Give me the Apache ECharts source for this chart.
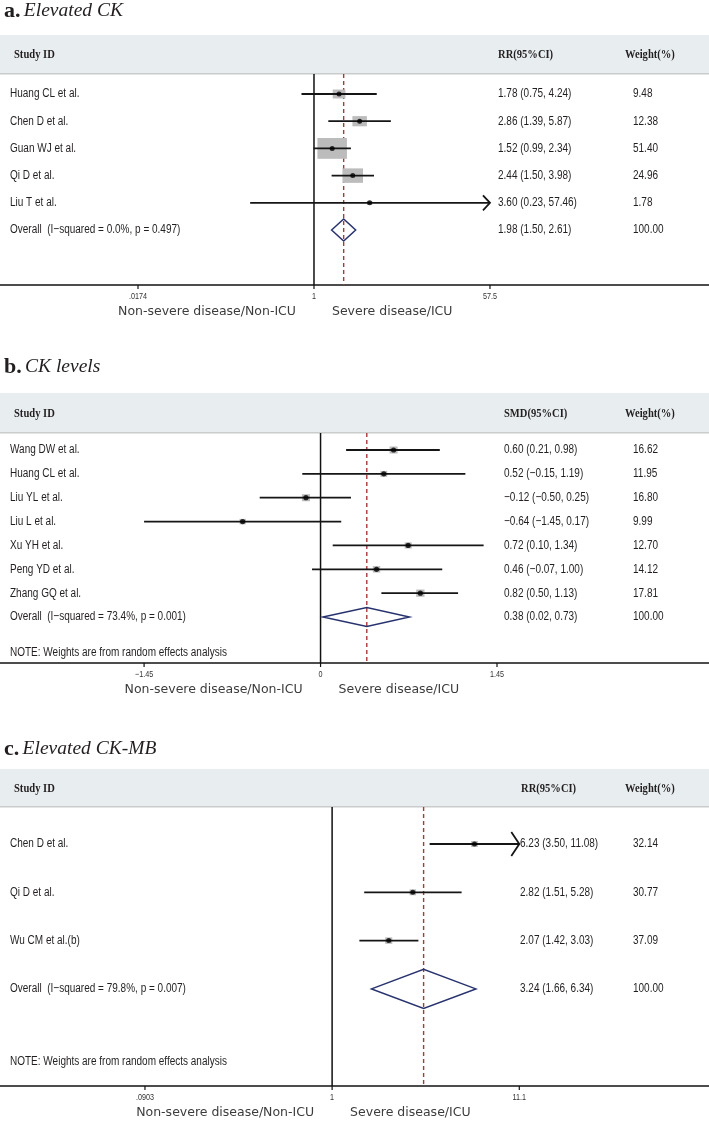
<!DOCTYPE html>
<html><head><meta charset="utf-8">
<script src="https://cdn.jsdelivr.net/npm/echarts@6/dist/echarts.min.js"></script>
<style>html,body{margin:0;padding:0;background:#fff}#chart{width:709px;height:1123px}</style>
</head><body><div id="chart"></div>
<script>
// ---------------- DATA ----------------
// Panel a: Elevated CK (RR)
const aStudies = ['Huang CL et al.', 'Chen D et al.', 'Guan WJ et al.', 'Qi D et al.', 'Liu T et al.'];
const aEst = [1.78, 2.86, 1.52, 2.44, 3.60];
const aLow = [0.75, 1.39, 0.99, 1.50, 0.23];
const aHigh = [4.24, 5.87, 2.34, 3.98, 57.46];
const aWeight = [9.48, 12.38, 51.40, 24.96, 1.78];
const aOverall = [1.98, 1.50, 2.61];
const aOverallLabel = 'Overall  (I\u2212squared = 0.0%, p = 0.497)';
const aTickValues = [0.0174, 1, 57.46];
const aTickLabels = ['.0174', '1', '57.5'];

// Panel b: CK levels (SMD)
const bStudies = ['Wang DW et al.', 'Huang CL et al.', 'Liu YL et al.', 'Liu L et al.', 'Xu YH et al.', 'Peng YD et al.', 'Zhang GQ et al.'];
const bEst = [0.60, 0.52, -0.12, -0.64, 0.72, 0.46, 0.82];
const bLow = [0.21, -0.15, -0.50, -1.45, 0.10, -0.07, 0.50];
const bHigh = [0.98, 1.19, 0.25, 0.17, 1.34, 1.00, 1.13];
const bWeight = [16.62, 11.95, 16.80, 9.99, 12.70, 14.12, 17.81];
const bOverall = [0.38, 0.02, 0.73];
const bOverallLabel = 'Overall  (I\u2212squared = 73.4%, p = 0.001)';
const bTickValues = [-1.45, 0, 1.45];
const bTickLabels = ['\u22121.45', '0', '1.45'];

// Panel c: Elevated CK-MB (RR)
const cStudies = ['Chen D et al.', 'Qi D et al.', 'Wu CM et al.(b)'];
const cEst = [6.23, 2.82, 2.07];
const cLow = [3.50, 1.51, 1.42];
const cHigh = [11.08, 5.28, 3.03];
const cWeight = [32.14, 30.77, 37.09];
const cOverall = [3.24, 1.66, 6.34];
const cOverallLabel = 'Overall  (I\u2212squared = 79.8%, p = 0.007)';
const cTickValues = [0.0903, 1, 11.08];
const cTickLabels = ['.0903', '1', '11.1'];

const overallWeight = 100;
const noteText = 'NOTE: Weights are from random effects analysis';
const leftSide = 'Non-severe disease/Non-ICU';
const rightSide = 'Severe disease/ICU';

// ---------------- LAYOUT / STYLE ----------------
const NARROW = "'Liberation Sans','Arial',sans-serif";
const NARROW_SX = 0.8;
const SERIF = "'Liberation Serif','Times New Roman','DejaVu Serif',serif";
const SANS = "'DejaVu Sans','Liberation Sans',sans-serif";
const TXT = '#231f20';

const panels = [
  {letter: 'a.', title: 'Elevated CK', studies: aStudies, est: aEst, low: aLow, high: aHigh, weight: aWeight,
   overall: aOverall, overallLabel: aOverallLabel, note: false, effHeader: 'RR(95%CI)',
   ticks: aTickValues, tickLabels: aTickLabels, nullValue: 1, axisType: 'log', xMin: 0.000726, xMax: 8892,
   titleY: 11, bandTop: 35, bandH: 38, gridTop: 74, gridH: 211, yMin: -0.735, yMax: 7.02,
   ciX: 498, effHdrX: 498, boxScale: 2.9, boxAspect: 1.42, diamondHalf: 11, arrowHalf: 7.5, arrowDepth: 7, dot: 5},
  {letter: 'b.', title: 'CK levels', studies: bStudies, est: bEst, low: bLow, high: bHigh, weight: bWeight,
   overall: bOverall, overallLabel: bOverallLabel, note: true, effHeader: 'SMD(95%CI)',
   ticks: bTickValues, tickLabels: bTickLabels, nullValue: 0, axisType: 'value', xMin: -2.634, xMax: 3.192,
   titleY: 367, bandTop: 393, bandH: 39, gridTop: 433, gridH: 230, yMin: -0.7125, yMax: 8.927,
   ciX: 504, effHdrX: 504, boxScale: 1.72, boxAspect: 1.15, diamondHalf: 9.5, arrowHalf: 7, arrowDepth: 7, dot: 5.2},
  {letter: 'c.', title: 'Elevated CK-MB', studies: cStudies, est: cEst, low: cLow, high: cHigh, weight: cWeight,
   overall: cOverall, overallLabel: cOverallLabel, note: true, effHeader: 'RR(95%CI)',
   ticks: cTickValues, tickLabels: cTickLabels, nullValue: 1, axisType: 'log', xMin: 0.01402, xMax: 126.8,
   titleY: 749, bandTop: 769, bandH: 37, gridTop: 807, gridH: 279, yMin: -0.766, yMax: 5.01,
   ciX: 520, effHdrX: 521, boxScale: 1.06, boxAspect: 1.1, diamondHalf: 19.5, arrowHalf: 12, arrowDepth: 8, dot: 5}
];

const fmt = v => v.toFixed(2).replace('-', '\u2212');
const ciText = (e, l, h) => fmt(e) + ' (' + fmt(l) + ', ' + fmt(h) + ')';

const grids = [], xAxes = [], yAxes = [], series = [], graphic = [];

panels.forEach((P, k) => {
  const n = P.studies.length;
  grids.push({left: 0, width: 709, top: P.gridTop, height: P.gridH});
  xAxes.push({gridIndex: k, type: P.axisType, min: P.xMin, max: P.xMax,
    axisLine: {show: true, onZero: false, lineStyle: {color: '#111', width: 1.6}},
    axisTick: {show: false}, axisLabel: {show: false}, splitLine: {show: false}});
  yAxes.push({gridIndex: k, type: 'value', inverse: true, min: P.yMin, max: P.yMax, show: false});

  // header band + title
  graphic.push({type: 'rect', shape: {x: 0, y: P.bandTop, width: 709, height: P.bandH}, style: {fill: '#e8eef0'}, z: 0});
  graphic.push({type: 'rect', shape: {x: 0, y: P.bandTop + P.bandH, width: 709, height: 1.5}, style: {fill: '#c9cbcc'}, z: 0});
  const hy = P.bandTop + P.bandH / 2 + 1;
  const hdrFont = 'bold 12px ' + SERIF;
  [['Study ID', 14], [P.effHeader, P.effHdrX], ['Weight(%)', 625]].forEach(h => {
    graphic.push({type: 'text', x: h[1], y: hy, scaleX: 0.88, style: {text: h[0], font: hdrFont, fill: TXT, verticalAlign: 'middle'}, z: 1});
  });
  graphic.push({type: 'text', x: 4, y: P.titleY, style: {
    text: '{l|' + P.letter + '} {t|' + P.title + '}', verticalAlign: 'middle',
    rich: {l: {fontFamily: SERIF, fontWeight: 'bold', fontSize: 22, fill: TXT},
           t: {fontFamily: SERIF, fontStyle: 'italic', fontSize: 19.5, fill: TXT}}}, z: 1});

  const base = {xAxisIndex: k, yAxisIndex: k, silent: true, animation: false};

  // reference lines (null line solid, overall dashed) + side captions
  series.push(Object.assign({}, base, {
    type: 'custom', z: 1,
    data: [[P.nullValue, 0], [P.overall[0], 0]],
    renderItem: (params, api) => {
      const cs = params.coordSys;
      const x = api.coord([api.value(0), 0])[0];
      if (params.dataIndex === 0) {
        const yb = cs.y + cs.height;
        return {type: 'group', children: [
          {type: 'line', shape: {x1: x, y1: cs.y, x2: x, y2: yb}, style: {stroke: '#111', lineWidth: 1.5}},
          {type: 'text', x: x - 18, y: yb + 27, style: {text: leftSide, font: '12.5px ' + SANS, fill: '#3c3c3c', align: 'right', verticalAlign: 'middle'}},
          {type: 'text', x: x + 18, y: yb + 27, style: {text: rightSide, font: '12.5px ' + SANS, fill: '#3c3c3c', align: 'left', verticalAlign: 'middle'}}
        ]};
      }
      return {type: 'line', shape: {x1: x, y1: cs.y, x2: x, y2: cs.y + cs.height},
        style: {stroke: '#a63a3a', lineWidth: 1.4, lineDash: [4, 3]}};
    }
  }));

  // axis ticks + tick labels
  series.push(Object.assign({}, base, {
    type: 'custom', z: 2,
    data: P.ticks.map(v => [v, 0]),
    renderItem: (params, api) => {
      const cs = params.coordSys;
      const yb = cs.y + cs.height;
      const x = api.coord([api.value(0), 0])[0];
      return {type: 'group', children: [
        {type: 'line', shape: {x1: x, y1: yb, x2: x, y2: yb + 4}, style: {stroke: '#111', lineWidth: 1.2}},
        {type: 'text', x: x, y: yb + 12, scaleX: NARROW_SX, style: {text: P.tickLabels[params.dataIndex], font: '9px ' + NARROW, fill: '#333', align: 'center', verticalAlign: 'middle'}}
      ]};
    }
  }));

  // weight boxes
  series.push(Object.assign({}, base, {
    type: 'custom', z: 3,
    data: P.est.map((e, i) => [e, i, P.weight[i]]),
    renderItem: (params, api) => {
      const c = api.coord([api.value(0), api.value(1)]);
      const h = P.boxScale * Math.sqrt(api.value(2));
      const w = h * P.boxAspect;
      return {type: 'rect', shape: {x: c[0] - w / 2, y: c[1] - h / 2, width: w, height: h}, style: {fill: '#bcbcbc'}};
    }
  }));

  // confidence intervals (arrow when CI reaches the axis limit)
  series.push(Object.assign({}, base, {
    type: 'custom', z: 4,
    data: P.est.map((e, i) => [e, i, P.low[i], P.high[i]]),
    renderItem: (params, api) => {
      const row = api.value(1), lo = api.value(2), hi = api.value(3);
      const tMin = P.ticks[0], tMax = P.ticks[P.ticks.length - 1];
      const p1 = api.coord([Math.max(lo, tMin), row]);
      const p2 = api.coord([Math.min(hi, tMax), row]);
      const kids = [{type: 'line', shape: {x1: p1[0], y1: p1[1], x2: p2[0], y2: p2[1]}, style: {stroke: '#151515', lineWidth: 1.8}}];
      if (hi >= tMax) {
        kids.push({type: 'polyline', shape: {points: [[p2[0] - P.arrowDepth, p2[1] - P.arrowHalf], [p2[0], p2[1]], [p2[0] - P.arrowDepth, p2[1] + P.arrowHalf]]},
          style: {stroke: '#151515', lineWidth: 1.8, fill: null}});
      }
      return {type: 'group', children: kids};
    }
  }));

  // point estimates
  series.push(Object.assign({}, base, {
    type: 'scatter', z: 5, symbol: 'circle', symbolSize: P.dot,
    itemStyle: {color: '#000'},
    data: P.est.map((e, i) => [e, i])
  }));

  // overall diamond
  series.push(Object.assign({}, base, {
    type: 'custom', z: 5,
    data: [[P.overall[0], n, P.overall[1], P.overall[2]]],
    renderItem: (params, api) => {
      const row = api.value(1);
      const c = api.coord([api.value(0), row]);
      const l = api.coord([api.value(2), row]);
      const r = api.coord([api.value(3), row]);
      const d = P.diamondHalf;
      return {type: 'polygon', shape: {points: [[l[0], c[1]], [c[0], c[1] - d], [r[0], c[1]], [c[0], c[1] + d]]},
        style: {stroke: '#28336e', lineWidth: 1.5, fill: null}};
    }
  }));

  // text columns
  const rows = P.studies.map((s, i) => ({label: s, ci: ciText(P.est[i], P.low[i], P.high[i]), w: P.weight[i].toFixed(2)}));
  rows.push({label: P.overallLabel, ci: ciText(P.overall[0], P.overall[1], P.overall[2]), w: overallWeight.toFixed(2)});
  const rowIdx = rows.map((r, i) => i);
  if (P.note) { rows.push({label: noteText, ci: '', w: ''}); rowIdx.push(n + 1.5); }
  series.push(Object.assign({}, base, {
    type: 'custom', z: 6,
    data: rowIdx.map(r => [P.nullValue === 0 ? 0 : 1, r]),
    renderItem: (params, api) => {
      const y = api.coord([api.value(0), api.value(1)])[1];
      const r = rows[params.dataIndex];
      const f = '12.5px ' + NARROW;
      const mk = (x, t) => ({type: 'text', x: x, y: y, scaleX: NARROW_SX, style: {text: t, font: f, fill: TXT, verticalAlign: 'middle'}});
      return {type: 'group', children: [mk(10, r.label), mk(P.ciX, r.ci), mk(633, r.w)]};
    }
  }));
});

const chart = echarts.init(document.getElementById('chart'), null, {renderer: 'canvas'});
chart.setOption({
  animation: false,
  backgroundColor: '#fff',
  grid: grids, xAxis: xAxes, yAxis: yAxes,
  graphic: graphic,
  series: series
});
</script>
</body></html>
